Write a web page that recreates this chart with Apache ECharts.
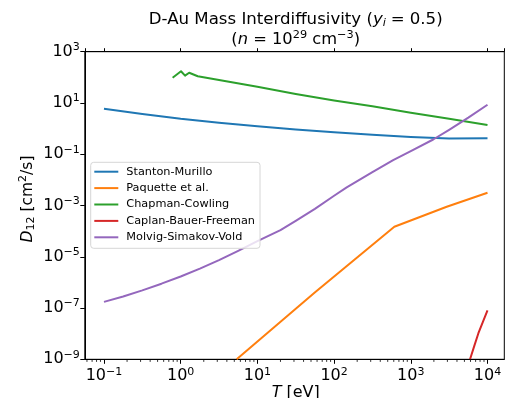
<!DOCTYPE html>
<html>
<head>
<meta charset="utf-8">
<script src="https://cdn.jsdelivr.net/npm/echarts@6/dist/echarts.min.js"></script>
<style>
  html, body { margin: 0; padding: 0; background: #fff; }
  #chart { width: 506px; height: 398px; }
</style>
</head>
<body>
<div id="chart"></div>
<script>
// Temperature grids (eV) and interdiffusion coefficients (cm^2/s) per model
const stantonT = [0.1, 0.316, 1, 3.16, 10, 31.6, 100, 316, 1000, 3160, 10000];
const stantonD = [5.97, 3.72, 2.40, 1.70, 1.23, 0.93, 0.72, 0.575, 0.468, 0.407, 0.417];

const paquetteT = [5.37, 56, 610, 2940, 10000];
const paquetteD = [1.0e-9, 4.0e-7, 1.48e-4, 8.9e-4, 3.16e-3];

const chapmanT = [0.785, 1.01, 1.14, 1.29, 1.67, 10, 31.6, 100, 316, 1000, 3160, 10000];
const chapmanD = [96.8, 172, 116, 151, 110, 42.7, 22.4, 12.6, 7.41, 4.17, 2.40, 1.38];

const caplanT = [5920, 6760, 7590, 8710, 10000];
const caplanD = [1.0e-9, 3.5e-9, 1.02e-8, 2.9e-8, 8.1e-8];

const molvigT = [0.1, 0.178, 0.316, 0.562, 1, 1.78, 3.16, 5.62, 10, 20, 31.6, 56.2, 100, 146, 316, 589, 1000, 1960, 3160, 5620, 10000];
const molvigD = [1.74e-7, 2.82e-7, 4.90e-7, 8.91e-7, 1.70e-6, 3.47e-6, 7.41e-6, 1.70e-5, 4.07e-5, 1.10e-4, 2.51e-4, 7.41e-4,
                 2.40e-3, 5.13e-3, 0.020, 0.0589, 0.133, 0.376, 0.90, 2.69, 8.51];

const seriesNames = ['Stanton-Murillo', 'Paquette et al.', 'Chapman-Cowling', 'Caplan-Bauer-Freeman', 'Molvig-Simakov-Vold'];
const seriesColors = ['#1f77b4', '#ff7f0e', '#2ca02c', '#d62728', '#9467bd'];

const xMinExp = -1.25, xMaxExp = 4.219;
const yMinExp = -9, yMaxExp = 3;

const FONT = 'DejaVu Sans';
const zip = (xs, ys) => xs.map((x, i) => [x, ys[i]]);

// minor tick positions 2..9 x 10^n on the temperature axis
const minorTicks = [];
for (let n = -2; n <= 4; n++) {
  for (let k = 2; k <= 9; k++) {
    const v = k * Math.pow(10, n);
    const e = Math.log10(v);
    if (e > xMinExp && e < xMaxExp) minorTicks.push([v, Math.pow(10, yMinExp)]);
  }
}

const supRich = {
  sup: { fontFamily: FONT, fontSize: 11, color: '#000', padding: [0, 0, 9, 0], verticalAlign: 'bottom' }
};

function powLabel(value) {
  const e = Math.log10(value);
  const r = Math.round(e);
  if (Math.abs(e - r) > 1e-6) return '';
  return '10{sup|' + String(r).replace('-', '\u2212') + '}';
}

const chart = echarts.init(document.getElementById('chart'), null, { renderer: 'canvas' });

const lineSeries = [
  [stantonT, stantonD], [paquetteT, paquetteD], [chapmanT, chapmanD], [caplanT, caplanD], [molvigT, molvigD]
].map((d, i) => ({
  name: seriesNames[i],
  type: 'line',
  data: zip(d[0], d[1]),
  showSymbol: false,
  symbol: 'none',
  color: seriesColors[i],
  lineStyle: { width: 2, color: seriesColors[i], join: 'round' },
  clip: true,
  z: 3,
  animation: false
}));

chart.setOption({
  animation: false,
  backgroundColor: '#fff',
  grid: { left: 84.8, top: 51.7, width: 419.5, height: 307.6, show: true, borderColor: '#000', borderWidth: 1, containLabel: false },
  xAxis: [{
    type: 'log',
    min: Math.pow(10, xMinExp),
    max: Math.pow(10, xMaxExp),
    logBase: 10,
    axisLine: { show: true, lineStyle: { color: '#000', width: 1 } },
    axisTick: { show: true, inside: false, length: 4.5, lineStyle: { color: '#000', width: 1 } },
    axisLabel: {
      formatter: powLabel, showMinLabel: false, showMaxLabel: false,
      fontFamily: FONT, fontSize: 16, color: '#000', margin: 7, rich: supRich
    },
    splitLine: { show: false }
  }, {
    type: 'log',
    position: 'top',
    min: Math.pow(10, xMinExp),
    max: Math.pow(10, xMaxExp),
    logBase: 10,
    axisLine: { show: true, lineStyle: { color: '#000', width: 1 } },
    axisTick: { show: true, inside: false, length: 3.5, lineStyle: { color: '#000', width: 1 } },
    axisLabel: { show: false },
    splitLine: { show: false }
  }],
  yAxis: {
    type: 'log',
    min: Math.pow(10, yMinExp),
    max: Math.pow(10, yMaxExp),
    logBase: 10,
    interval: 2,
    axisLine: { show: true, lineStyle: { color: '#000', width: 1 } },
    axisTick: { show: true, inside: false, length: 4.5, lineStyle: { color: '#000', width: 1 } },
    axisLabel: {
      formatter: powLabel,
      fontFamily: FONT, fontSize: 16, color: '#000', margin: 5, rich: supRich
    },
    splitLine: { show: false }
  },
  legend: {
    data: seriesNames,
    orient: 'vertical',
    left: 90.7,
    top: 162.3,
    padding: [2.4, 5, 4, 3.6],
    itemGap: 2.4,
    itemWidth: 24,
    itemHeight: 2,
    icon: 'rect',
    backgroundColor: 'rgba(255,255,255,0.8)',
    borderColor: '#d6d6d6',
    borderWidth: 1,
    borderRadius: 3,
    textStyle: { fontFamily: FONT, fontSize: 11.3, color: '#000', lineHeight: 14, padding: [0, 0, 0, 3] }
  },
  graphic: [
    {
      type: 'text', x: 295.7, y: 20, z: 10,
      style: {
        text: 'D-Au Mass Interdiffusivity ({it|y}{sub|i}{eq|=}0.5)',
        fontFamily: FONT, fontSize: 16.6, fill: '#000', align: 'center', verticalAlign: 'middle',
        rich: {
          it: { fontFamily: FONT, fontStyle: 'italic', fontSize: 16.6 },
          sub: { fontFamily: FONT, fontStyle: 'italic', fontSize: 11.3, padding: [6, 0, 0, 0] },
          eq: { fontFamily: FONT, fontSize: 16.6, padding: [0, 5, 0, 5] }
        }
      }
    },
    {
      type: 'text', x: 295.7, y: 40, z: 10,
      style: {
        text: '({it|n} = 10{sup|29} cm{sup|\u22123})',
        fontFamily: FONT, fontSize: 16.3, fill: '#000', align: 'center', verticalAlign: 'middle',
        rich: {
          it: { fontFamily: FONT, fontStyle: 'italic', fontSize: 16.3 },
          sup: { fontFamily: FONT, fontSize: 11.3, padding: [0, 0, 9, 0] }
        }
      }
    },
    {
      type: 'text', x: 28, y: 199, rotation: Math.PI / 2, z: 10,
      style: {
        text: '{it|D}{sub|12} [cm{sup|2}/s]',
        fontFamily: FONT, fontSize: 15.5, fill: '#000', align: 'center', verticalAlign: 'middle',
        rich: {
          it: { fontFamily: FONT, fontStyle: 'italic', fontSize: 15.5 },
          sub: { fontFamily: FONT, fontSize: 11, padding: [6, 0, 0, 0] },
          sup: { fontFamily: FONT, fontSize: 11, padding: [0, 0, 9, 0] }
        }
      }
    },
    {
      type: 'text', x: 295.7, y: 393, z: 10,
      style: {
        text: '{it|T} [eV]',
        fontFamily: FONT, fontSize: 16, fill: '#000', align: 'center', verticalAlign: 'middle',
        rich: { it: { fontFamily: FONT, fontStyle: 'italic', fontSize: 16 } }
      }
    }
  ],
  series: lineSeries.concat([{
    type: 'custom',
    name: 'minor-ticks',
    data: minorTicks,
    clip: false,
    silent: true,
    z: 4,
    renderItem: function (params, api) {
      const p = api.coord([api.value(0), api.value(1)]);
      return {
        type: 'line',
        shape: { x1: p[0], y1: p[1], x2: p[0], y2: p[1] + 2.6 },
        style: { stroke: '#000', lineWidth: 0.8 }
      };
    }
  }])
});
</script>
</body>
</html>
